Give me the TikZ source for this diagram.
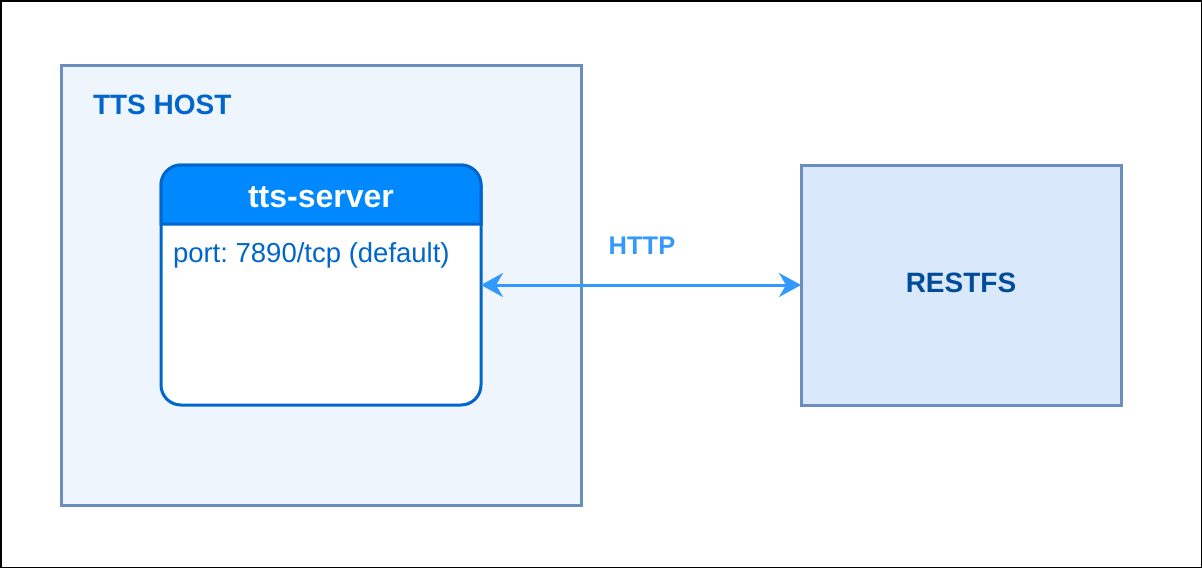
\documentclass[tikz,border=0pt]{standalone}
\usepackage{fontspec}
\setmainfont{Liberation Sans}
\usetikzlibrary{arrows.meta}
\frenchspacing

\definecolor{hostline}{HTML}{6C8EBF}
\definecolor{hostfill}{HTML}{EEF5FC}
\definecolor{restfill}{HTML}{DAE8FC}
\definecolor{srvline}{HTML}{0066CC}
\definecolor{srvhead}{HTML}{0088FF}
\definecolor{httpblue}{HTML}{3399FF}
\definecolor{restlabel}{HTML}{004C99}

\begin{document}
\begin{tikzpicture}
	 [x=1pt,y=-1pt,every node/.style={inner sep=0pt,outer sep=0pt},
	  box/.style={draw=hostline,line width=3pt,minimum width=320pt,minimum height=240pt},
	  lbl/.style={font=\bfseries\fontsize{28}{32}\selectfont}]
	\useasboundingbox (0,0) rectangle (1202,568);
	\draw[line width=1.5pt] (0.75,0.75) rectangle (1201.25,567.25);

	  \node (host)[box,fill=hostfill,minimum width=520pt,minimum height=440pt] at (321,285) {};
	  \node (hostlbl)[lbl,anchor=base west,text=srvline] at (93,114) {TTS HOST};

	  \node (srv)[box,draw=srvline,fill=white,rounded corners=20pt] at (321,285) {};
	\filldraw[draw=srvline,fill=srvhead,line width=3pt]
	  (srv.west |- 0,224) [rounded corners=20pt] -- (srv.north west) -- (srv.north east)
	  [sharp corners] -- (srv.east |- 0,224) -- cycle;
	  \node (srvlbl)[lbl,font=\bfseries\fontsize{32}{36}\selectfont,anchor=base,text=white] at (321,207) {tts-server};
	  \node (port)[anchor=base west,text=srvline,font=\fontsize{27.5}{32}\selectfont] at (173,262) {port: 7890/tcp (default)};

	  \node (rest)[box,fill=restfill] at (961,285) {};
	  \node (restlbl)[lbl,anchor=base,text=restlabel] at (961,292) {RESTFS};

	  \node (http)[lbl,font=\bfseries\fontsize{25.5}{30}\selectfont,anchor=base,text=httpblue] at (642,254) {HTTP};

	\foreach \from/\to in {srv/rest}
    \draw[httpblue,line width=3pt,{Stealth[length=22pt,width=24pt,inset=7pt]}-{Stealth[length=22pt,width=24pt,inset=7pt]}]
      (\from.east) -- (\to.west);

\end{tikzpicture}
\end{document}
